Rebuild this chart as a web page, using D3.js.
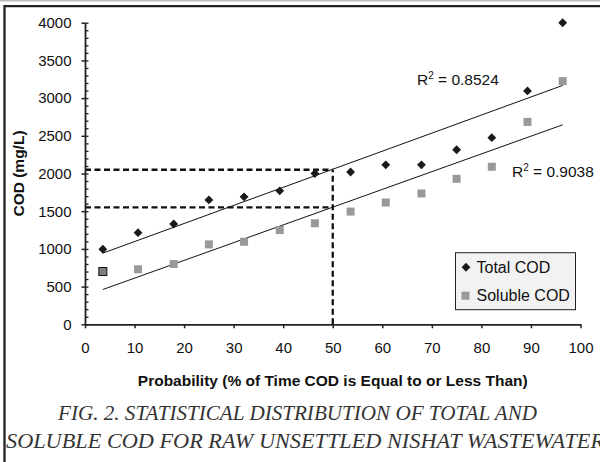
<!DOCTYPE html>
<html>
<head>
<meta charset="utf-8">
<script src="https://cdn.jsdelivr.net/npm/d3@7"></script>
<style>
  body { margin: 0; background: #fff; }
  svg { display: block; }
  .tick text { font-family: "Liberation Sans", Arial, sans-serif; font-size: 15px; fill: #111; }
  .axis path, .axis line { stroke: #222; }
</style>
</head>
<body>
<svg id="chart"></svg>
<script>
// probability positions (% of time COD is equal to or less than)
const probability = [3.6, 10.7, 17.9, 25, 32.1, 39.3, 46.4, 53.6, 60.7, 67.9, 75, 82.1, 89.3, 96.4]
const totalCOD = [995, 1215, 1330, 1650, 1690, 1770, 2000, 2020, 2115, 2115, 2315, 2475, 3095, 4000]
const solubleCOD = [700, 730, 800, 1060, 1095, 1250, 1340, 1495, 1615, 1735, 1930, 2090, 2685, 3225]
const seriesNames = ['Total COD', 'Soluble COD']
const rSquared = ['0.8524', '0.9038']
const xTicks = [0, 10, 20, 30, 40, 50, 60, 70, 80, 90, 100]
const yTicks = [0, 500, 1000, 1500, 2000, 2500, 3000, 3500, 4000]
const guideX = 50
const guideY = [2050, 1550]
const caption = ['FIG. 2. STATISTICAL DISTRIBUTION OF TOTAL AND',
                 'SOLUBLE COD FOR RAW UNSETTLED NISHAT WASTEWATER']

const width = 600
const height = 462
const sans = '"Liberation Sans", Arial, sans-serif'

const svg = d3.select('#chart').attr('width', width).attr('height', height)

const x = d3.scaleLinear().domain([0, 100]).range([85, 580.5])
const y = d3.scaleLinear().domain([0, 4000]).range([324.3, 22.7])

// outer frame
svg.append('line').attr('x1', 0).attr('x2', width).attr('y1', 0.8).attr('y2', 0.8)
  .attr('stroke', '#bbb').attr('stroke-width', 1.6)
svg.append('path').attr('d', `M4.5,${height} V6.2 H${width}`)
  .attr('fill', 'none').attr('stroke', '#222').attr('stroke-width', 2.3)

// linear regression
function fit (xs, ys) {
  const mx = d3.mean(xs), my = d3.mean(ys)
  let sxy = 0, sxx = 0
  xs.forEach((v, i) => { sxy += (v - mx) * (ys[i] - my); sxx += (v - mx) * (v - mx) })
  const b = sxy / sxx
  return v => my + b * (v - mx)
}

// dashed guide lines
const guides = svg.append('g').attr('stroke', '#111').attr('stroke-width', 2.3)
  .attr('stroke-dasharray', '6,3.5').attr('fill', 'none')
guideY.forEach(v => {
  guides.append('line').attr('x1', x(0)).attr('x2', x(guideX)).attr('y1', y(v)).attr('y2', y(v))
})
guides.append('line').attr('x1', x(guideX)).attr('x2', x(guideX)).attr('y1', y(0)).attr('y2', y(guideY[0]))

// axes
const xAxis = svg.append('g').attr('class', 'axis').attr('transform', `translate(0,${y(0)})`)
  .call(d3.axisBottom(x).tickValues(xTicks).tickSize(4).tickPadding(14).tickSizeOuter(0))
xAxis.select('.domain').attr('stroke-width', 1.8)
xAxis.selectAll('.tick line').attr('stroke-width', 1.5)

const yAxis = svg.append('g').attr('class', 'axis').attr('transform', `translate(${x(0)},0)`)
  .call(d3.axisLeft(y).tickValues(yTicks).tickFormat(d3.format('d')).tickSize(3.5).tickPadding(10).tickSizeOuter(0))
yAxis.select('.domain').attr('stroke-width', 1.8)
yAxis.selectAll('.tick line').attr('stroke-width', 1.5)

svg.append('g').attr('class', 'axis').attr('transform', `translate(${x(0)},0)`)
  .call(d3.axisRight(y).ticks(40).tickSize(3.5).tickFormat('').tickSizeOuter(0))
  .call(g => g.select('.domain').remove())
  .selectAll('.tick line').attr('stroke-width', 1.3)

// trend lines
const line = d3.line().x(d => x(d[0])).y(d => y(d[1]))
;[totalCOD, solubleCOD].forEach(vals => {
  const f = fit(probability, vals)
  const ends = [probability[0], probability[probability.length - 1]]
  svg.append('path').attr('d', line(ends.map(v => [v, f(v)])))
    .attr('fill', 'none').attr('stroke', '#111').attr('stroke-width', 1)
})

// points
const diamond = d3.symbol().type(d3.symbolDiamond2).size(50)
svg.append('g').selectAll('path')
  .data(probability.map((p, i) => [p, totalCOD[i]]))
  .join('path')
  .attr('transform', d => `translate(${x(d[0])},${y(d[1])})`)
  .attr('d', diamond)
  .attr('fill', '#1a1a1a')

const sq = 8
svg.append('g').selectAll('rect')
  .data(probability.map((p, i) => [p, solubleCOD[i]]))
  .join('rect')
  .attr('x', d => x(d[0]) - sq / 2)
  .attr('y', d => y(d[1]) - sq / 2)
  .attr('width', sq).attr('height', sq)
  .attr('fill', (d, i) => i === 0 ? '#7f7f7f' : '#999')
  .attr('stroke', (d, i) => i === 0 ? '#111' : 'none')
  .attr('stroke-width', 1)

// R² labels
const rLabel = (tx, ty, val) => {
  const t = svg.append('text').attr('x', tx).attr('y', ty)
    .attr('font-family', sans).attr('font-size', 15.5).attr('fill', '#111')
  t.append('tspan').text('R')
  t.append('tspan').attr('font-size', 10).attr('dy', -6).text('2')
  t.append('tspan').attr('dy', 6).text(' = ' + val)
}
rLabel(417, 85, rSquared[0])
rLabel(512, 177, rSquared[1])

// legend
const legend = svg.append('g').attr('transform', 'translate(455.5,252.7)')
legend.append('rect').attr('width', 120).attr('height', 57)
  .attr('fill', '#f2f2f2').attr('stroke', '#222').attr('stroke-width', 1)
legend.append('path').attr('transform', 'translate(10.5,14.6)').attr('d', diamond).attr('fill', '#1a1a1a')
legend.append('rect').attr('x', 6).attr('y', 39).attr('width', sq).attr('height', sq).attr('fill', '#999')
legend.selectAll('text').data(seriesNames).join('text')
  .attr('x', 21).attr('y', (d, i) => 20 + i * 28)
  .attr('font-family', sans).attr('font-size', 16).attr('fill', '#111')
  .text(d => d)

// axis titles
svg.append('text').attr('x', x(50)).attr('y', 386).attr('text-anchor', 'middle')
  .attr('font-family', sans).attr('font-size', 15.5).attr('font-weight', 'bold')
  .attr('fill', '#111')
  .text('Probability (% of Time COD is Equal to or Less Than)')

svg.append('text').attr('transform', `translate(24,${(y(0) + y(4000)) / 2}) rotate(-90)`)
  .attr('text-anchor', 'middle')
  .attr('font-family', sans).attr('font-size', 15.5).attr('font-weight', 'bold')
  .attr('fill', '#111')
  .text('COD (mg/L)')

// caption
const capLayout = [{x: 58, w: 479, y: 420}, {x: 6, w: 598, y: 448}]
svg.append('g').selectAll('text').data(caption).join('text')
  .attr('x', (d, i) => capLayout[i].x).attr('y', (d, i) => capLayout[i].y)
  .attr('textLength', (d, i) => capLayout[i].w).attr('lengthAdjust', 'spacingAndGlyphs')
  .attr('font-family', '"Liberation Serif", "Times New Roman", serif').attr('font-style', 'italic')
  .attr('font-size', 20.5).attr('fill', '#333')
  .text(d => d)
</script>
</body>
</html>
